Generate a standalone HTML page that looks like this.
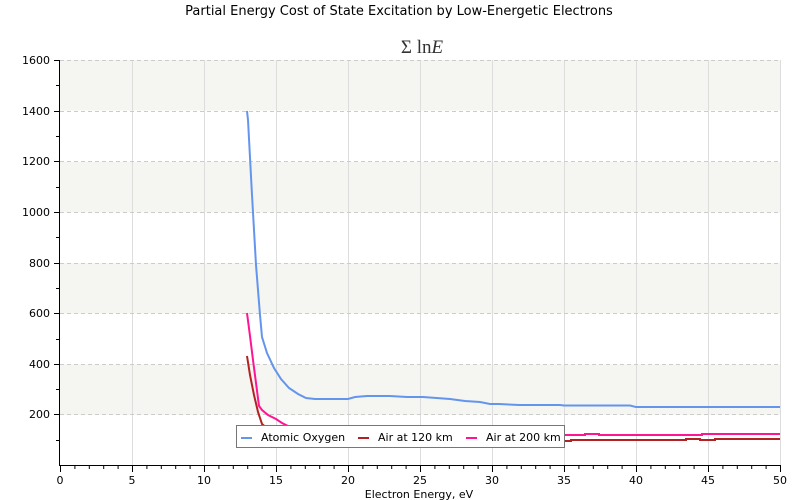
<!DOCTYPE html>
<html><head><meta charset="utf-8"><style>body{margin:0;background:#fff}svg{display:block;font-family:"DejaVu Sans","Liberation Sans",sans-serif}</style></head><body>
<svg width="800" height="500" xmlns="http://www.w3.org/2000/svg">
<text x="399" y="15" font-size="13" text-anchor="middle" fill="#000">Partial Energy Cost of State Excitation by Low-Energetic Electrons</text>
<text x="422" y="53" font-size="19" text-anchor="middle" font-family="Liberation Serif,serif" fill="#333">Σ ln<tspan font-style="italic">E</tspan></text>
<g fill="#f5f5f1">
<rect x="60" y="60" width="720" height="50.6"/><rect x="60" y="161.9" width="720" height="50.6"/><rect x="60" y="263.1" width="720" height="50.6"/><rect x="60" y="364.4" width="720" height="50.6"/>
</g>
<g stroke="#ddd" stroke-width="1">
<line x1="132.5" y1="60" x2="132.5" y2="465"/><line x1="204.5" y1="60" x2="204.5" y2="465"/><line x1="276.5" y1="60" x2="276.5" y2="465"/><line x1="348.5" y1="60" x2="348.5" y2="465"/><line x1="420.5" y1="60" x2="420.5" y2="465"/><line x1="492.5" y1="60" x2="492.5" y2="465"/><line x1="564.5" y1="60" x2="564.5" y2="465"/><line x1="636.5" y1="60" x2="636.5" y2="465"/><line x1="708.5" y1="60" x2="708.5" y2="465"/><line x1="780.5" y1="60" x2="780.5" y2="465"/>
</g>
<g stroke="#ccc" stroke-dasharray="4,3">
<line x1="60" y1="60.5" x2="780" y2="60.5"/><line x1="60" y1="111.5" x2="780" y2="111.5"/><line x1="60" y1="161.5" x2="780" y2="161.5"/><line x1="60" y1="212.5" x2="780" y2="212.5"/><line x1="60" y1="263.5" x2="780" y2="263.5"/><line x1="60" y1="313.5" x2="780" y2="313.5"/><line x1="60" y1="364.5" x2="780" y2="364.5"/><line x1="60" y1="414.5" x2="780" y2="414.5"/>
</g>
<g fill="none" stroke-width="2">
<polyline stroke="#6495ed" points="247,111 248,120 252,195 256,265 260,315 262,337 267,353 274,368 281,379 289,388 298,394 306,398 315,399 348,399 355,397 367,396 390,396 407,397 423,397 450,399 465,401 480,402 490,404 499,404 519,405 560,405 564,405.5 630,405.5 636,407 780,407"/>
<polyline stroke="#ff1493" points="247,313 250,336 253,360 256,383 259,406 262,410 268,415 276,419 282,423 288,426 300,429 560,435 585,435 585,434 599,434 599,435 702,435 702,434 780,434"/>
<polyline stroke="#b22222" points="247,356 250,375 254,395 258,412 262,424 267,428 276,432 300,436 560,441 571,441 571,440 686,440 686,439 700,439 700,440 715,440 715,439 780,439"/>
</g>
<g stroke="#000" stroke-width="1">
<line x1="59.5" y1="60" x2="59.5" y2="466"/><line x1="59" y1="465.5" x2="781" y2="465.5"/>
</g>
<path stroke="#000" d="M54 60.5h6M54 111.5h6M54 161.5h6M54 212.5h6M54 263.5h6M54 313.5h6M54 364.5h6M54 414.5h6M56 85.5h4M56 136.5h4M56 187.5h4M56 237.5h4M56 288.5h4M56 339.5h4M56 389.5h4M56 440.5h4"/>
<path stroke="#000" d="M60.5 465v7M132.5 465v7M204.5 465v7M276.5 465v7M348.5 465v7M420.5 465v7M492.5 465v7M564.5 465v7M636.5 465v7M708.5 465v7M780.5 465v7
M74.9 465v4M89.3 465v4M103.7 465v4M118.1 465v4M146.9 465v4M161.3 465v4M175.7 465v4M190.1 465v4M218.9 465v4M233.3 465v4M247.7 465v4M262.1 465v4M290.9 465v4M305.3 465v4M319.7 465v4M334.1 465v4M362.9 465v4M377.3 465v4M391.7 465v4M406.1 465v4M434.9 465v4M449.3 465v4M463.7 465v4M478.1 465v4M506.9 465v4M521.3 465v4M535.7 465v4M550.1 465v4M578.9 465v4M593.3 465v4M607.7 465v4M622.1 465v4M650.9 465v4M665.3 465v4M679.7 465v4M694.1 465v4M722.9 465v4M737.3 465v4M751.7 465v4M766.1 465v4"/>
<g font-size="11" fill="#000" text-anchor="end">
<text x="50" y="64">1600</text><text x="50" y="115">1400</text><text x="50" y="165">1200</text><text x="50" y="216">1000</text><text x="50" y="267">800</text><text x="50" y="317">600</text><text x="50" y="368">400</text><text x="50" y="418">200</text>
</g>
<g font-size="11" fill="#000" text-anchor="middle">
<text x="60" y="484">0</text><text x="132" y="484">5</text><text x="204" y="484">10</text><text x="276" y="484">15</text><text x="348" y="484">20</text><text x="420" y="484">25</text><text x="492" y="484">30</text><text x="564" y="484">35</text><text x="636" y="484">40</text><text x="708" y="484">45</text><text x="780" y="484">50</text>
<text x="419" y="498">Electron Energy, eV</text>
</g>
<rect x="236.5" y="425.5" width="328" height="22" fill="#fff" stroke="#777"/>
<g stroke-width="2"><line x1="241" y1="438" x2="252" y2="438" stroke="#6495ed"/><line x1="358" y1="438" x2="369" y2="438" stroke="#b22222"/><line x1="466" y1="438" x2="477" y2="438" stroke="#ff1493"/></g>
<g font-size="11" fill="#000"><text x="261" y="441">Atomic Oxygen</text><text x="378" y="441">Air at 120 km</text><text x="486" y="441">Air at 200 km</text></g>
</svg>
</body></html>
